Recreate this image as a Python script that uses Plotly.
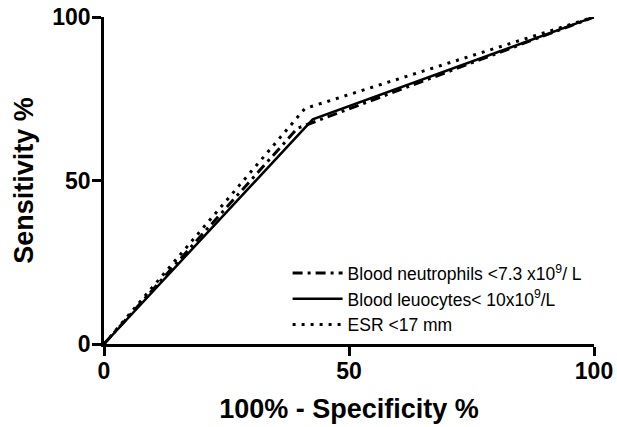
import plotly.graph_objects as go

# Data
neut_x = [0, 39.5, 100]
neut_y = [0, 66, 100]
leuc_x = [0, 42.6, 100]
leuc_y = [0, 68.7, 100]
esr_x = [0, 41, 100]
esr_y = [0, 72, 100]

names = ["Blood neutrophils <7.3 x10<sup>9</sup>/ L",
         "Blood leuocytes< 10x10<sup>9</sup>/L",
         "ESR <17 mm"]

tick_vals = [0, 50, 100]
tick_text = ["<b>0</b>", "<b>50</b>", "<b>100</b>"]

fig = go.Figure()
fig.add_trace(go.Scatter(x=neut_x, y=neut_y, mode="lines", name=names[0],
                         line=dict(color="black", width=3, dash="10px,5px,3px,5px"),
                         cliponaxis=False))
fig.add_trace(go.Scatter(x=leuc_x, y=leuc_y, mode="lines", name=names[1],
                         line=dict(color="black", width=2.5, dash="solid"),
                         cliponaxis=False))
fig.add_trace(go.Scatter(x=esr_x, y=esr_y, mode="lines", name=names[2],
                         line=dict(color="black", width=3, dash="3px,6px"),
                         cliponaxis=False))

axis_common = dict(
    range=[0, 100], tickvals=tick_vals, ticktext=tick_text,
    showline=True, linecolor="black", linewidth=2.5,
    ticks="outside", ticklen=9, tickwidth=2.5, tickcolor="black",
    showgrid=False, zeroline=False, automargin=False,
    ticklabeloverflow="allow",
    tickfont=dict(family="Liberation Sans", size=23, color="black"),
)

fig.update_xaxes(**axis_common, ticklabelstandoff=-4,
                 title=dict(text="<b>100% - Specificity %</b>",
                            font=dict(family="Liberation Sans", size=27, color="black"),
                            standoff=16))
fig.update_yaxes(**axis_common, ticklabelstandoff=-3,
                 title=dict(text="<b>Sensitivity %</b>",
                            font=dict(family="Liberation Sans", size=27, color="black"),
                            standoff=11))

fig.update_layout(
    width=617, height=427,
    margin=dict(l=104, r=23, t=17, b=83),
    plot_bgcolor="white", paper_bgcolor="white",
    font=dict(family="Liberation Sans", color="black"),
    legend=dict(x=0.3747, y=0.2716, xanchor="left", yanchor="top",
                font=dict(family="Liberation Sans", size=17.5, color="black"),
                bgcolor="rgba(0,0,0,0)", itemwidth=50),
)

# remove the default 8px page margin so the figure fills the window exactly
fig.write_html("out.html",
               config={"displayModeBar": False},
               post_script="document.body.style.margin='0';"
                           "document.documentElement.style.overflow='hidden';")
